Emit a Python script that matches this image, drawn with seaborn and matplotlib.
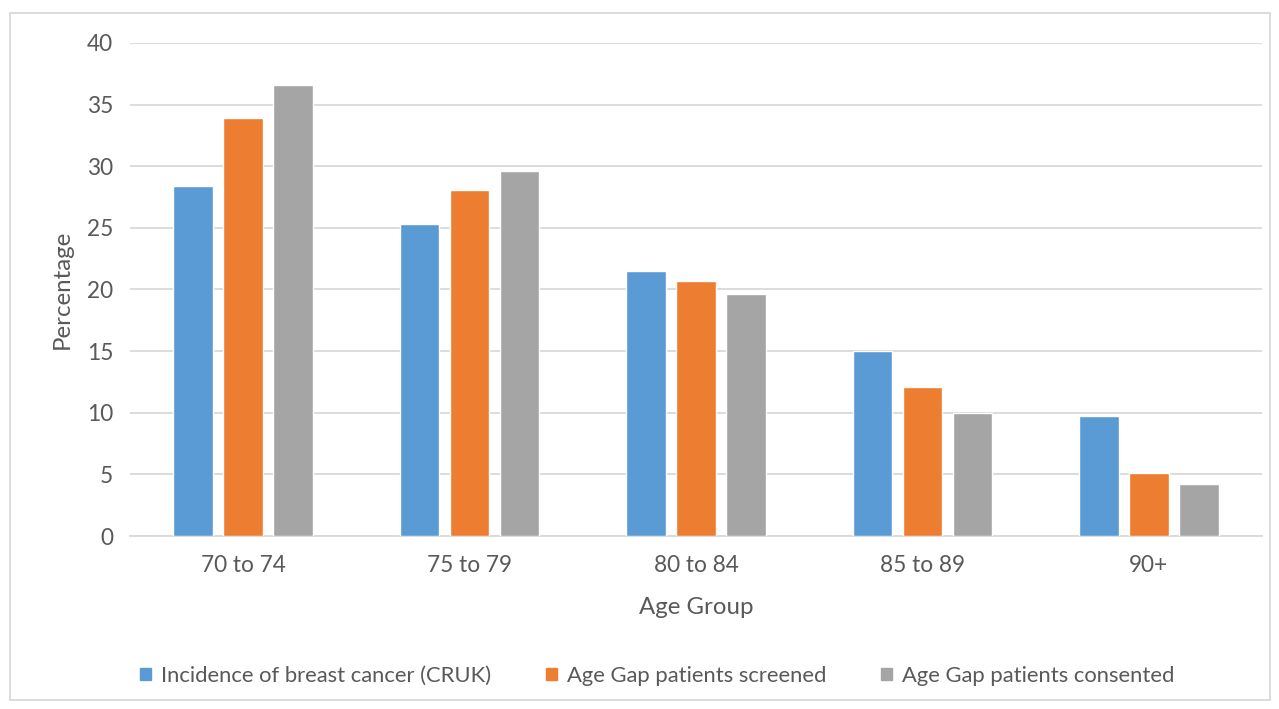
import matplotlib
matplotlib.use("Agg")
import matplotlib.pyplot as plt
import seaborn as sns
import pandas as pd
from matplotlib.patches import Rectangle

age_groups = ["70 to 74", "75 to 79", "80 to 84", "85 to 89", "90+"]
series_names = ["Incidence of breast cancer (CRUK)",
                "Age Gap patients screened",
                "Age Gap patients consented"]
incidence = [28.4, 25.3, 21.5, 15.0, 9.7]
screened = [33.9, 28.1, 20.7, 12.1, 5.1]
consented = [36.6, 29.6, 19.6, 9.95, 4.2]
colors = ["#5b9bd5", "#ed7d31", "#a5a5a5"]
yticks = [0, 5, 10, 15, 20, 25, 30, 35, 40]

df = pd.DataFrame({
    "Age Group": age_groups * 3,
    "Series": [s for s in series_names for _ in age_groups],
    "Percentage": incidence + screened + consented,
})

sns.set_theme(style="white")
plt.rcParams["font.family"] = ["Lato", "DejaVu Sans"]
text_color = "#595959"
grid_color = "#d9d9d9"

fig = plt.figure(figsize=(12.79, 7.09), dpi=100)
ax = fig.add_axes([0.1016, 0.244, 0.8851, 0.6954])

sns.barplot(data=df, x="Age Group", y="Percentage", hue="Series",
            hue_order=series_names, order=age_groups, palette=colors,
            width=0.663, gap=0.21, saturation=1, ax=ax, legend=False,
            zorder=3)

ax.set_xlim(-0.5, 4.5)
ax.set_ylim(0, 40)
ax.set_yticks(yticks)
ax.yaxis.grid(True, color=grid_color, linewidth=1.3, zorder=0)
ax.set_axisbelow(True)
for side in ["top", "right", "left"]:
    ax.spines[side].set_visible(False)
ax.spines["bottom"].set_color(grid_color)
ax.spines["bottom"].set_linewidth(1.3)
ax.tick_params(axis="both", length=0, labelsize=16.3, colors=text_color)
ax.tick_params(axis="y", pad=12)
ax.tick_params(axis="x", pad=14)
ax.set_xlabel("Age Group", fontsize=17.3, color=text_color, labelpad=14.5)
ax.set_ylabel("Percentage", fontsize=17.3, color=text_color, labelpad=10)

handles = [Rectangle((0, 0), 1, 1, color=c) for c in colors]
fig.legend(handles, series_names, loc="center", ncol=3,
           bbox_to_anchor=(0.5137, 1 - 676 / 709), frameon=False,
           fontsize=15.8, labelcolor=text_color, handlelength=0.5,
           handleheight=0.5, handletextpad=0.45, columnspacing=2.5)

# Thin outer frame around the chart area
fig.add_artist(Rectangle((10 / 1279, 9 / 709), 1260 / 1279, 687 / 709,
                         transform=fig.transFigure, fill=False,
                         edgecolor=grid_color, linewidth=1.3))

fig.savefig("out.png", dpi=100, facecolor="white")
